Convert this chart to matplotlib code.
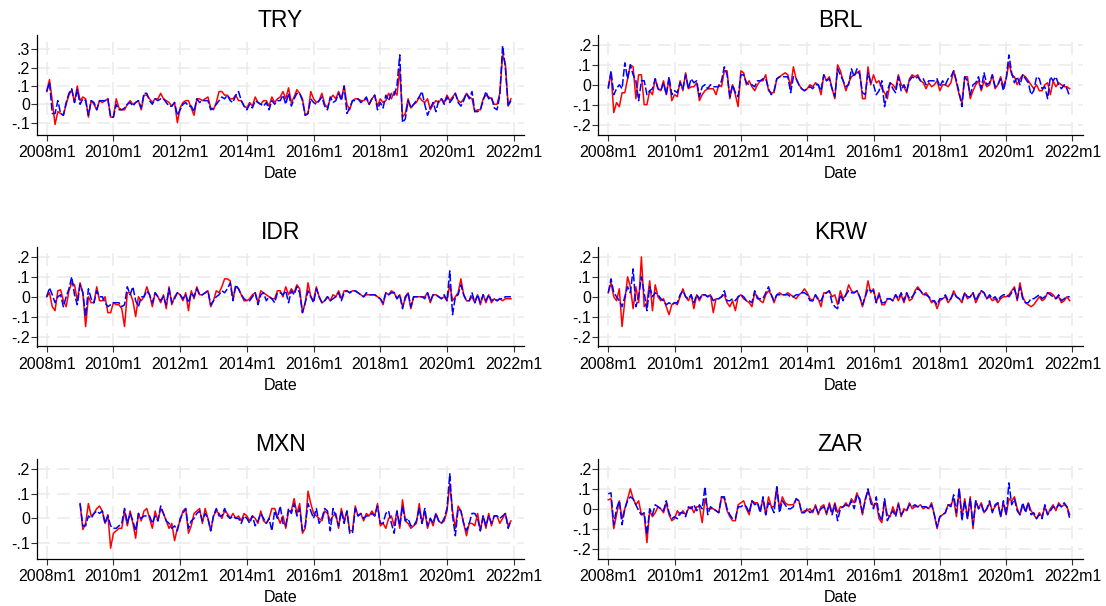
import matplotlib
matplotlib.use('Agg')
import matplotlib.pyplot as plt
import numpy as np

plt.rcParams['font.family'] = ['Liberation Sans', 'DejaVu Sans']

# ---------------- data (monthly, 2008m1 .. 2021m12) ----------------
try_red = [
 0.07, 0.135, 0.02, -0.11, -0.04, -0.05, -0.06, 0.00, 0.05, 0.08, 0.01, 0.10,
 0.02, 0.04, 0.03, -0.07, 0.02, 0.00, -0.03, 0.02, 0.01, 0.02, 0.03, -0.07,
 -0.07, 0.03, -0.02, -0.03, -0.03, 0.00, 0.02, 0.00, 0.01, 0.02, -0.03, 0.05,
 0.05, 0.03, 0.01, 0.03, 0.03, 0.06, 0.03, 0.02, 0.01, -0.01, 0.01, -0.10,
 -0.02, 0.01, 0.02, 0.02, -0.02, -0.06, 0.03, 0.03, 0.02, 0.03, 0.04, -0.02,
 -0.03, 0.01, 0.07, 0.07, 0.05, 0.05, 0.03, 0.03, 0.05, 0.02, 0.02, -0.01,
 -0.02, 0.01, -0.01, 0.04, 0.01, 0.00, 0.02, 0.02, -0.01, 0.04, 0.01, 0.03,
 0.04, 0.07, 0.03, 0.09, 0.01, 0.04, 0.08, 0.06, 0.03, -0.06, -0.05, 0.07,
 0.03, 0.01, 0.02, 0.06, 0.00, -0.02, 0.03, 0.05, 0.03, 0.07, 0.03, 0.10,
 0.00, -0.03, 0.02, 0.03, 0.03, 0.02, 0.02, 0.03, 0.00, 0.03, 0.05, -0.01,
 0.03, 0.01, 0.02, 0.06, 0.03, 0.07, 0.05, 0.19, -0.07, -0.05, 0.03, -0.02,
 0.00, 0.01, 0.04, 0.02, 0.01, 0.03, -0.03, 0.00, 0.02, 0.01, 0.03, 0.01,
 0.05, 0.02, 0.04, 0.06, 0.02, 0.01, 0.03, 0.06, 0.04, 0.03, -0.04, -0.03,
 -0.03, 0.03, 0.05, 0.04, 0.03, 0.00, 0.00, 0.06, 0.27, 0.22, -0.01, 0.03]
try_blue = [
 0.07, 0.12, -0.05, -0.05, 0.02, -0.05, -0.06, 0.01, 0.06, 0.085, 0.01, 0.08,
 0.00, 0.03, 0.02, -0.06, 0.02, 0.01, -0.03, 0.02, 0.02, 0.02, 0.03, -0.07,
 -0.07, 0.00, -0.03, -0.03, -0.02, 0.00, 0.01, -0.01, 0.01, 0.02, -0.02, 0.06,
 0.06, 0.02, 0.00, 0.03, 0.02, 0.03, 0.03, 0.01, -0.01, -0.01, 0.01, -0.06,
 -0.03, 0.00, 0.01, -0.01, -0.01, -0.04, 0.03, 0.01, 0.02, 0.02, 0.02, -0.03,
 -0.02, 0.00, 0.02, 0.04, 0.03, 0.05, 0.02, 0.01, 0.05, 0.07, 0.02, -0.01,
 -0.03, 0.00, -0.02, 0.02, 0.01, 0.00, -0.01, 0.01, -0.03, 0.02, 0.00, 0.02,
 0.02, 0.05, 0.00, 0.06, -0.01, 0.03, 0.06, 0.06, 0.02, -0.06, -0.05, 0.03,
 0.01, 0.00, 0.02, 0.04, -0.01, -0.03, 0.04, 0.01, 0.02, 0.06, 0.02, 0.10,
 -0.05, -0.02, 0.02, 0.02, 0.03, 0.01, 0.02, 0.04, 0.00, 0.03, 0.05, -0.03,
 0.01, -0.02, 0.05, 0.02, 0.06, 0.05, 0.10, 0.27, -0.10, -0.08, 0.02, -0.02,
 0.00, 0.02, 0.04, 0.07, 0.00, -0.06, -0.02, 0.01, -0.04, 0.02, 0.03, 0.00,
 0.04, 0.01, 0.03, 0.06, 0.01, -0.01, 0.02, 0.06, 0.03, 0.07, -0.04, -0.04,
 -0.03, 0.02, 0.07, 0.03, 0.04, -0.02, -0.03, 0.05, 0.32, 0.20, -0.01, 0.02]

brl_red = [
 -0.01, 0.06, -0.14, -0.09, -0.11, -0.04, -0.04, 0.03, 0.10, 0.09, -0.07, 0.05,
 0.05, -0.10, -0.10, -0.03, -0.05, 0.03, -0.02, -0.03, 0.02, -0.05, 0.03, -0.08,
 -0.05, -0.06, 0.02, -0.03, 0.06, -0.02, -0.01, -0.01, 0.01, -0.08, -0.05, -0.03,
 -0.02, -0.02, -0.02, -0.05, 0.00, -0.01, 0.07, 0.07, -0.07, 0.00, -0.05, -0.11,
 0.07, 0.06, 0.00, 0.02, -0.01, -0.03, 0.00, 0.02, 0.02, 0.05, -0.03, -0.04,
 -0.04, 0.03, 0.04, 0.05, 0.06, 0.05, -0.01, 0.09, 0.03, 0.00, -0.02, -0.03,
 -0.02, 0.00, -0.01, 0.01, 0.00, -0.05, 0.05, 0.02, 0.04, -0.02, -0.07, 0.10,
 0.07, 0.02, -0.03, 0.01, 0.04, 0.05, 0.06, 0.07, -0.07, -0.07, 0.09, 0.00,
 0.05, 0.01, 0.02, -0.02, -0.04, -0.07, 0.01, 0.00, -0.02, 0.05, 0.00, -0.01,
 -0.04, 0.03, 0.05, 0.04, 0.05, 0.02, 0.01, -0.02, 0.01, -0.01, 0.00, 0.02,
 -0.03, 0.00, 0.00, -0.01, 0.01, 0.07, 0.01, -0.05, -0.09, 0.04, 0.04, -0.07,
 -0.03, 0.00, 0.02, -0.03, 0.02, -0.01, 0.00, 0.05, -0.02, 0.00, 0.04, -0.01,
 0.03, 0.11, 0.05, 0.04, 0.00, 0.03, 0.05, 0.04, 0.02, 0.00, -0.02, 0.00,
 -0.03, -0.03, 0.00, 0.01, -0.05, 0.02, -0.01, 0.01, 0.00, -0.01, -0.01, -0.02]
brl_blue = [
 -0.02, 0.07, -0.05, -0.02, 0.00, -0.02, 0.11, 0.03, 0.10, 0.05, 0.02, -0.08,
 0.02, 0.02, -0.05, -0.03, -0.02, 0.03, -0.02, -0.03, 0.01, -0.05, 0.04, -0.05,
 -0.03, -0.04, 0.01, -0.02, 0.05, -0.02, 0.03, 0.01, 0.02, -0.06, -0.01, 0.00,
 -0.02, 0.00, -0.01, -0.01, -0.01, 0.02, 0.09, 0.05, -0.06, 0.00, -0.04, -0.06,
 0.05, 0.05, 0.01, 0.00, 0.00, -0.01, 0.02, 0.02, 0.03, 0.03, -0.02, -0.05,
 -0.03, 0.03, 0.04, 0.04, 0.04, 0.04, -0.04, 0.04, 0.03, 0.00, -0.02, -0.03,
 -0.02, -0.01, -0.02, 0.00, 0.00, -0.03, 0.05, 0.02, 0.03, -0.02, -0.06, 0.08,
 0.05, 0.02, -0.01, 0.00, 0.08, 0.04, 0.08, 0.05, -0.04, -0.05, 0.06, 0.01,
 0.00, -0.05, -0.03, 0.02, -0.11, -0.03, 0.01, -0.02, -0.04, 0.04, -0.03, 0.00,
 -0.03, 0.02, 0.04, 0.03, 0.04, 0.02, 0.03, 0.00, 0.02, 0.02, 0.02, 0.03,
 -0.01, 0.02, 0.00, 0.03, 0.04, 0.07, 0.02, -0.04, -0.11, 0.04, 0.02, -0.05,
 0.00, 0.01, 0.04, -0.02, 0.06, 0.00, 0.01, 0.05, -0.01, 0.00, 0.03, -0.03,
 0.03, 0.15, 0.06, 0.01, 0.04, 0.00, 0.05, 0.03, 0.01, -0.05, -0.03, 0.04,
 0.03, -0.02, -0.01, -0.07, 0.04, 0.02, 0.04, 0.00, -0.02, 0.00, -0.02, -0.06]

idr_red = [
 0.00, 0.02, -0.05, -0.07, 0.03, 0.035, -0.02, -0.05, 0.03, 0.07, 0.06, -0.02,
 0.07, 0.02, -0.15, 0.00, -0.03, -0.03, 0.05, -0.02, -0.02, 0.00, -0.08, -0.08,
 -0.03, -0.04, -0.04, -0.06, -0.15, 0.02, 0.02, -0.02, -0.10, 0.00, -0.02, 0.00,
 0.05, 0.01, -0.05, 0.02, 0.00, -0.03, 0.01, -0.06, 0.05, -0.04, 0.00, 0.02,
 0.01, -0.02, 0.02, -0.07, 0.03, -0.01, 0.05, 0.01, 0.01, 0.02, 0.03, -0.05,
 -0.02, 0.03, 0.02, 0.05, 0.09, 0.09, 0.08, -0.01, 0.05, 0.04, 0.01, -0.02,
 -0.02, -0.01, 0.01, 0.02, -0.03, 0.03, 0.02, 0.01, 0.00, -0.01, -0.01, 0.03,
 0.03, 0.00, 0.05, 0.01, 0.04, 0.02, 0.06, 0.04, -0.08, -0.03, 0.07, 0.00,
 -0.02, 0.05, 0.00, -0.03, -0.02, 0.00, -0.02, 0.01, 0.00, 0.03, -0.01, 0.03,
 0.03, 0.02, 0.03, 0.03, 0.02, 0.01, 0.00, 0.01, 0.01, 0.01, 0.01, 0.00,
 -0.01, -0.04, 0.02, 0.01, 0.03, 0.02, -0.01, 0.01, -0.05, -0.01, 0.02, -0.06,
 0.00, 0.00, 0.00, 0.00, 0.00, 0.02, -0.03, 0.01, 0.01, 0.00, -0.01, 0.00,
 -0.02, 0.06, -0.02, 0.00, 0.02, 0.09, 0.01, -0.02, -0.02, 0.00, -0.03, 0.01,
 -0.04, 0.01, -0.03, 0.01, -0.03, -0.01, -0.02, -0.01, -0.02, -0.01, -0.01, -0.01]
idr_blue = [
 0.00, 0.045, 0.01, -0.03, 0.00, 0.01, -0.05, 0.00, 0.04, 0.10, 0.01, -0.04,
 0.06, 0.02, -0.10, 0.04, -0.01, -0.03, 0.03, 0.00, 0.00, -0.03, -0.05, -0.04,
 -0.03, -0.03, -0.03, -0.05, -0.04, 0.05, 0.01, 0.05, -0.02, -0.05, 0.00, 0.00,
 0.03, 0.01, -0.03, 0.02, 0.00, -0.02, 0.00, -0.04, 0.04, -0.03, -0.01, 0.02,
 0.01, -0.01, 0.01, -0.03, 0.02, 0.00, 0.04, 0.01, 0.01, 0.02, 0.03, -0.04,
 -0.02, 0.00, 0.01, 0.03, 0.02, 0.04, 0.07, -0.02, 0.06, 0.04, 0.01, -0.01,
 -0.02, -0.02, 0.00, 0.02, -0.04, 0.01, 0.02, -0.02, 0.00, -0.01, -0.03, 0.02,
 0.02, 0.01, 0.03, -0.03, 0.03, 0.01, 0.05, 0.02, -0.08, -0.03, 0.03, 0.00,
 -0.03, 0.04, 0.00, -0.03, -0.02, 0.00, -0.02, -0.01, 0.00, 0.02, -0.02, 0.02,
 0.03, 0.02, 0.03, 0.03, 0.02, 0.01, 0.00, 0.02, 0.01, 0.01, 0.01, 0.00,
 -0.01, -0.03, 0.02, 0.01, 0.02, 0.02, -0.01, 0.01, -0.06, 0.00, 0.02, -0.05,
 0.00, 0.00, 0.00, 0.00, -0.01, 0.02, -0.02, 0.01, 0.01, 0.00, -0.01, 0.01,
 -0.02, 0.13, -0.09, 0.00, 0.01, 0.06, 0.01, -0.02, -0.02, 0.02, -0.03, 0.01,
 -0.03, 0.01, -0.02, 0.01, -0.02, -0.01, -0.02, -0.01, -0.01, 0.00, 0.00, 0.00]

krw_red = [
 0.02, 0.07, 0.00, -0.02, 0.04, -0.15, -0.02, 0.10, 0.05, -0.06, 0.05, -0.03,
 0.20, -0.05, -0.03, 0.08, -0.07, 0.06, 0.00, -0.02, -0.01, -0.05, -0.09, -0.04,
 -0.03, -0.04, 0.00, 0.04, 0.00, -0.02, 0.01, -0.06, 0.01, -0.02, 0.01, 0.01,
 0.00, 0.01, -0.08, -0.01, -0.01, 0.00, 0.01, -0.03, -0.05, -0.02, -0.07, 0.00,
 0.01, -0.01, -0.02, -0.03, -0.05, 0.02, 0.00, -0.02, -0.03, 0.01, 0.03, 0.01,
 -0.03, 0.01, 0.02, 0.01, 0.01, 0.02, 0.01, 0.00, -0.01, 0.01, 0.02, 0.04,
 0.02, -0.01, -0.02, 0.01, -0.01, -0.05, 0.02, 0.02, 0.03, 0.00, 0.01, -0.04,
 0.03, -0.01, 0.01, 0.06, 0.03, 0.02, 0.03, 0.00, -0.05, 0.00, 0.08, 0.02,
 0.04, -0.03, 0.02, -0.04, -0.04, -0.01, -0.01, -0.02, 0.01, -0.02, 0.01, -0.03,
 0.02, -0.02, -0.01, 0.03, 0.05, 0.03, 0.01, 0.02, 0.00, -0.03, -0.02, -0.06,
 -0.02, -0.01, 0.00, -0.03, -0.01, 0.03, 0.00, -0.01, -0.03, 0.02, -0.01, 0.00,
 0.02, -0.03, 0.00, 0.03, 0.02, -0.01, 0.00, -0.02, -0.01, -0.03, -0.01, 0.00,
 0.00, 0.01, 0.03, 0.05, -0.02, 0.07, 0.00, -0.03, -0.04, -0.05, -0.04, -0.02,
 0.00, -0.02, -0.01, 0.02, 0.02, 0.01, -0.01, 0.00, -0.03, -0.02, 0.00, -0.02]
krw_blue = [
 0.02, 0.09, 0.02, 0.00, -0.02, -0.05, 0.00, 0.05, 0.02, 0.14, -0.05, 0.00,
 0.10, 0.02, -0.07, 0.05, 0.00, 0.02, 0.01, -0.01, -0.02, -0.04, -0.03, -0.04,
 -0.03, -0.03, 0.01, 0.03, 0.00, -0.01, 0.01, -0.03, 0.01, -0.01, 0.01, 0.01,
 0.00, 0.01, -0.02, -0.01, -0.01, 0.00, 0.03, -0.02, -0.02, -0.01, -0.02, 0.00,
 0.01, 0.00, -0.02, -0.02, -0.03, 0.03, -0.01, -0.01, -0.01, 0.02, 0.05, 0.01,
 -0.02, 0.01, 0.01, 0.01, 0.01, 0.01, 0.00, 0.00, 0.01, 0.01, 0.02, 0.02,
 0.01, -0.02, -0.02, 0.01, -0.02, -0.02, 0.01, 0.02, 0.03, -0.03, -0.05, -0.06,
 0.01, -0.02, 0.01, 0.03, 0.02, 0.02, 0.03, 0.00, -0.04, 0.00, 0.04, 0.03,
 0.03, -0.03, 0.01, -0.03, -0.03, -0.01, -0.01, -0.02, 0.01, -0.01, 0.02, -0.02,
 0.02, -0.01, 0.00, 0.02, 0.04, 0.03, 0.01, 0.01, 0.00, -0.02, -0.02, -0.04,
 -0.01, -0.01, 0.01, -0.02, -0.01, 0.02, 0.00, -0.01, -0.02, 0.02, 0.00, 0.00,
 0.02, -0.02, 0.01, 0.03, 0.02, -0.01, 0.01, -0.01, 0.00, -0.02, 0.00, 0.01,
 0.01, 0.00, 0.02, 0.04, -0.01, 0.05, -0.01, -0.03, -0.03, -0.01, -0.01, 0.00,
 0.01, -0.01, 0.00, 0.02, 0.01, 0.00, -0.01, 0.01, -0.02, -0.01, 0.00, 0.00]

# MXN starts in 2009m1
mxn_red = [
 0.06, -0.045, -0.02, 0.06, 0.01, 0.02, 0.04, 0.05, 0.03, -0.02, 0.015, -0.12,
 -0.06, -0.05, -0.04, -0.04, 0.03, -0.03, 0.03, -0.02, -0.08, 0.02, -0.01, 0.03,
 0.04, 0.00, -0.04, 0.03, -0.01, 0.04, 0.02, -0.01, -0.04, -0.02, -0.09, -0.04,
 -0.01, 0.03, 0.04, -0.06, -0.03, 0.02, 0.03, 0.04, -0.02, 0.04, 0.00, -0.05,
 0.01, 0.03, 0.02, 0.00, 0.03, 0.02, 0.00, 0.02, 0.00, 0.01, -0.01, 0.02,
 0.01, -0.01, 0.01, 0.00, -0.02, 0.03, -0.01, -0.02, 0.00, 0.04, 0.04, 0.01,
 -0.02, 0.01, -0.04, 0.03, 0.03, 0.08, 0.02, 0.06, -0.06, -0.04, 0.11, 0.06,
 0.02, 0.01, 0.00, -0.01, 0.03, 0.02, -0.01, 0.01, 0.02, -0.04, 0.04, -0.01,
 0.03, -0.05, -0.05, 0.05, 0.01, 0.02, -0.01, 0.02, 0.01, 0.03, 0.01, 0.06,
 -0.03, -0.02, -0.04, 0.00, 0.01, -0.03, 0.03, -0.04, 0.075, -0.01, -0.02, -0.04,
 -0.03, -0.02, 0.06, -0.02, 0.03, -0.04, 0.00, -0.03, 0.02, -0.01, -0.02, -0.01,
 0.03, 0.14, 0.03, -0.04, 0.05, 0.03, -0.02, -0.07, -0.02, -0.02, -0.03, 0.02,
 -0.05, 0.01, -0.04, 0.02, -0.03, 0.01, 0.01, -0.02, 0.00, 0.02, -0.03, -0.01]
mxn_blue = [
 0.06, -0.03, -0.03, 0.01, 0.00, 0.02, 0.03, 0.02, 0.03, -0.02, 0.01, -0.03,
 -0.04, -0.04, -0.03, -0.02, 0.04, -0.02, 0.02, -0.01, -0.05, 0.02, 0.00, 0.01,
 0.01, 0.01, -0.02, 0.01, -0.01, 0.05, 0.02, -0.01, -0.02, -0.04, -0.03, -0.05,
 0.00, 0.02, 0.04, -0.04, -0.01, 0.00, 0.02, 0.03, -0.01, 0.02, 0.00, -0.05,
 0.01, 0.04, 0.01, 0.01, 0.04, 0.01, 0.00, 0.01, 0.00, 0.00, -0.02, 0.01,
 0.00, -0.02, 0.01, -0.03, -0.01, 0.02, 0.00, -0.02, 0.00, -0.05, 0.03, 0.00,
 0.05, -0.02, -0.03, 0.04, 0.02, 0.06, 0.01, 0.04, -0.05, -0.03, 0.06, 0.03,
 0.00, 0.04, -0.02, 0.00, 0.04, 0.03, -0.05, 0.04, 0.01, -0.03, 0.03, -0.02,
 0.03, -0.06, -0.06, 0.04, 0.01, 0.02, 0.00, 0.01, 0.01, 0.02, 0.01, 0.05,
 -0.02, -0.02, 0.02, 0.03, -0.02, -0.06, 0.03, -0.03, 0.05, -0.01, 0.00, -0.03,
 -0.03, -0.01, 0.04, -0.02, 0.04, -0.03, 0.00, -0.02, 0.02, -0.01, -0.02, 0.00,
 0.04, 0.18, 0.01, -0.07, 0.04, 0.03, -0.02, -0.05, -0.02, 0.02, 0.02, 0.00,
 -0.05, 0.01, -0.03, 0.01, -0.02, 0.01, 0.01, 0.00, 0.01, 0.02, -0.04, -0.01]

zar_red = [
 0.045, 0.05, -0.10, -0.03, 0.04, -0.05, 0.00, 0.05, 0.10, 0.05, 0.02, 0.04,
 -0.03, -0.03, -0.17, -0.01, -0.04, -0.02, 0.01, 0.00, -0.02, 0.03, -0.03, -0.06,
 -0.05, -0.01, -0.03, -0.01, -0.03, 0.00, 0.01, -0.02, 0.01, 0.01, -0.07, 0.05,
 0.00, 0.00, 0.00, -0.01, -0.02, 0.06, 0.05, -0.01, -0.04, -0.06, -0.06, 0.02,
 0.03, 0.04, 0.00, -0.03, 0.04, 0.03, 0.03, -0.01, 0.05, -0.03, 0.06, 0.01,
 0.01, 0.11, 0.00, 0.06, 0.03, 0.02, 0.02, 0.02, 0.05, 0.04, -0.02, -0.01,
 -0.01, 0.00, -0.02, 0.02, -0.03, 0.01, 0.02, -0.03, 0.03, -0.02, 0.03, -0.02,
 0.01, 0.01, 0.03, 0.01, 0.05, 0.03, 0.08, 0.04, -0.03, 0.05, 0.09, 0.05,
 0.01, 0.03, -0.05, -0.07, 0.04, -0.03, -0.04, 0.01, -0.03, 0.03, -0.04, 0.00,
 -0.01, 0.03, 0.00, 0.01, 0.01, 0.02, 0.00, 0.01, 0.00, 0.03, -0.03, -0.10,
 -0.04, -0.03, -0.02, 0.02, 0.02, 0.05, -0.04, 0.10, -0.04, 0.05, -0.05, 0.06,
 -0.10, 0.04, 0.00, 0.03, -0.02, 0.00, 0.03, -0.01, 0.01, 0.03, -0.04, 0.03,
 -0.03, 0.05, 0.04, 0.06, 0.00, -0.03, 0.02, -0.01, 0.03, -0.01, -0.03, -0.05,
 -0.02, -0.04, 0.01, -0.03, 0.00, 0.02, -0.01, 0.03, 0.01, 0.02, 0.01, -0.03]
zar_blue = [
 0.075, 0.08, -0.08, 0.00, 0.04, -0.08, 0.00, 0.04, 0.06, 0.05, 0.02, -0.01,
 -0.03, -0.02, -0.13, 0.00, -0.03, 0.02, 0.01, 0.00, -0.01, 0.04, -0.02, -0.05,
 -0.04, -0.05, -0.02, -0.02, -0.04, 0.01, 0.00, 0.02, -0.01, 0.02, 0.00, 0.11,
 -0.03, 0.01, 0.00, -0.01, -0.02, 0.06, 0.06, 0.00, -0.03, -0.05, -0.05, 0.01,
 0.01, 0.02, 0.01, -0.02, 0.04, 0.02, 0.03, -0.02, 0.06, -0.03, 0.03, 0.01,
 -0.02, 0.11, -0.02, 0.04, 0.02, 0.00, 0.00, 0.01, 0.05, 0.04, -0.02, -0.02,
 0.00, -0.02, -0.01, 0.01, -0.02, 0.00, 0.01, -0.02, 0.02, -0.03, 0.02, -0.06,
 0.00, 0.01, 0.02, 0.01, 0.04, 0.00, 0.07, 0.05, -0.02, 0.04, 0.10, 0.03,
 0.00, 0.06, -0.03, -0.06, 0.05, -0.06, -0.03, -0.01, -0.04, 0.02, -0.03, -0.01,
 -0.01, 0.02, 0.01, 0.02, 0.01, 0.01, 0.01, 0.01, 0.00, 0.02, -0.03, -0.09,
 -0.04, -0.03, -0.02, 0.02, 0.01, 0.07, -0.02, 0.10, -0.06, 0.04, -0.05, 0.05,
 -0.08, 0.04, 0.00, 0.02, -0.02, 0.00, 0.04, -0.02, 0.02, 0.03, -0.04, 0.04,
 -0.03, 0.13, 0.02, 0.05, -0.01, -0.03, 0.03, -0.02, 0.03, -0.03, -0.02, -0.05,
 -0.03, -0.05, 0.02, -0.03, -0.01, 0.01, 0.00, 0.02, 0.01, 0.03, 0.01, -0.05]

xtick_labels = ["2008m1", "2010m1", "2012m1", "2014m1", "2016m1", "2018m1",
                "2020m1", "2022m1"]

# ---------------- figure ----------------
W, H = 1106, 606
fig = plt.figure(figsize=(W / 100, H / 100), dpi=100)

def px_box(x0, x1, ytop, ybot):
    return [x0 / W, 1 - ybot / H, (x1 - x0) / W, (ybot - ytop) / H]

col_x = [(36.7, 524.0), (598.3, 1082.7)]
row_y = [(35.0, 134.5), (247.0, 346.5), (459.0, 558.5)]

std_ticks = [-0.2, -0.1, 0.0, 0.1, 0.2]
std_labels = ["-.2", "-.1", "0", ".1", ".2"]

panels = [
    ("TRY", try_red, try_blue, 0, (-0.165, 0.3787),
     [-0.1, 0.0, 0.1, 0.2, 0.3], ["-.1", "0", ".1", ".2", ".3"], 0, 0),
    ("BRL", brl_red, brl_blue, 0, (-0.25, 0.25), std_ticks, std_labels, 0, 1),
    ("IDR", idr_red, idr_blue, 0, (-0.25, 0.25), std_ticks, std_labels, 1, 0),
    ("KRW", krw_red, krw_blue, 0, (-0.25, 0.25), std_ticks, std_labels, 1, 1),
    ("MXN", mxn_red, mxn_blue, 12, (-0.162, 0.24),
     [-0.1, 0.0, 0.1, 0.2], ["-.1", "0", ".1", ".2"], 2, 0),
    ("ZAR", zar_red, zar_blue, 0, (-0.25, 0.25), std_ticks, std_labels, 2, 1),
]

for name, red, blue, start, ylim, yt, ytl, r, c in panels:
    x0, x1 = col_x[c]
    yt0, yb0 = row_y[r]
    ax = fig.add_axes(px_box(x0, x1, yt0, yb0))
    x = np.arange(start, start + len(red))
    ax.plot(x, red, color='#ff0000', lw=1.1, solid_joinstyle='round', zorder=3)
    ax.plot(x, blue, color='#0000ff', lw=1.1, dashes=(5, 1.6), zorder=4)
    ax.set_xlim(-3.6, 171.7)
    ax.set_ylim(*ylim)
    ax.set_xticks(np.arange(0, 169, 24))
    ax.set_xticklabels(xtick_labels)
    ax.set_yticks(yt)
    ax.set_yticklabels(ytl)
    ax.grid(True, color='#ebebeb', lw=1.1, linestyle=(0, (8.5, 4.6)))
    ax.set_axisbelow(True)
    for s in ['top', 'right']:
        ax.spines[s].set_visible(False)
    for s in ['left', 'bottom']:
        ax.spines[s].set_linewidth(0.9)
        ax.spines[s].set_color('#000000')
    ax.tick_params(axis='both', direction='out', length=4, width=0.8,
                   color='#333333', labelsize=11.5, labelcolor='#000000')
    ax.tick_params(axis='x', pad=3.5)
    ax.tick_params(axis='y', pad=1.0)
    ax.set_xlabel("Date", fontsize=11.5, labelpad=4.5)
    ax.set_title(name, fontsize=16.5, pad=6)

fig.savefig("out.png", dpi=100, facecolor='white')
